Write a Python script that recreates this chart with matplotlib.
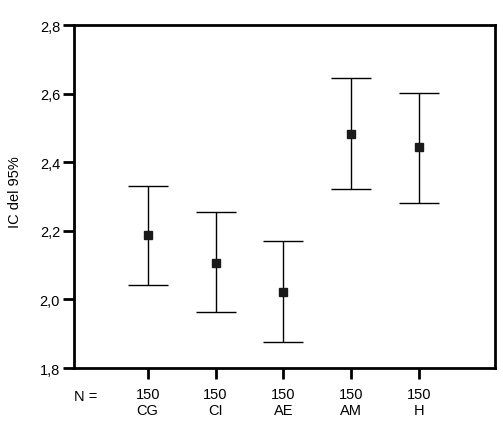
#!/usr/bin/env python3
"""
Mean with 95% confidence interval per group (N = 150 each).
"""

import matplotlib
matplotlib.use('Agg')
import matplotlib.pyplot as plt
from matplotlib.ticker import FuncFormatter

groups = ['CG', 'CI', 'AE', 'AM', 'H']
n_values = [150, 150, 150, 150, 150]
means = [2.187, 2.106, 2.021, 2.483, 2.443]
lower = [2.042, 1.962, 1.876, 2.321, 2.281]
upper = [2.332, 2.254, 2.169, 2.645, 2.603]


def main() -> None:
	plt.rcParams['font.family'] = ['Liberation Sans Narrow', 'Liberation Sans', 'DejaVu Sans']
	fig = plt.figure(figsize=(5.03, 4.35), dpi=100)
	ax = fig.add_axes([74 / 503, 1 - 369 / 435, 421 / 503, 343 / 435])

	xs = list(range(1, len(groups) + 1))
	err_lo = [m - l for m, l in zip(means, lower)]
	err_hi = [u - m for m, u in zip(means, upper)]
	ax.errorbar(xs, means, yerr=[err_lo, err_hi], fmt='s', color='#1a1a1a',
				markersize=5.8, ecolor='black', elinewidth=1.0, capsize=14.2,
				capthick=1.0)

	ax.set_xlim(-0.085, 6.115)
	ax.set_ylim(1.8, 2.8)
	ax.set_yticks([1.8, 2.0, 2.2, 2.4, 2.6, 2.8])
	ax.yaxis.set_major_formatter(FuncFormatter(lambda v, p: f'{v:.1f}'.replace('.', ',')))
	ax.set_xticks(xs)
	ax.set_xticklabels([f'{n}\n{g}' for n, g in zip(n_values, groups)], linespacing=1.2)
	ax.text(0.09, -0.06, 'N =', transform=ax.get_xaxis_transform(),
			ha='center', va='top', fontsize=10.5)

	for s in ax.spines.values():
		s.set_linewidth(2.0)
	ax.tick_params(axis='both', direction='out', length=8, width=2.0,
				   labelsize=10.5)
	ax.tick_params(axis='x', pad=5.5)
	ax.tick_params(axis='y', pad=2)
	fig.text(14.7 / 503, 1 - 192 / 435, 'IC del 95%', rotation=90,
			 ha='center', va='center', fontsize=10.5)

	fig.savefig('out.png')


if __name__ == '__main__':
	main()
